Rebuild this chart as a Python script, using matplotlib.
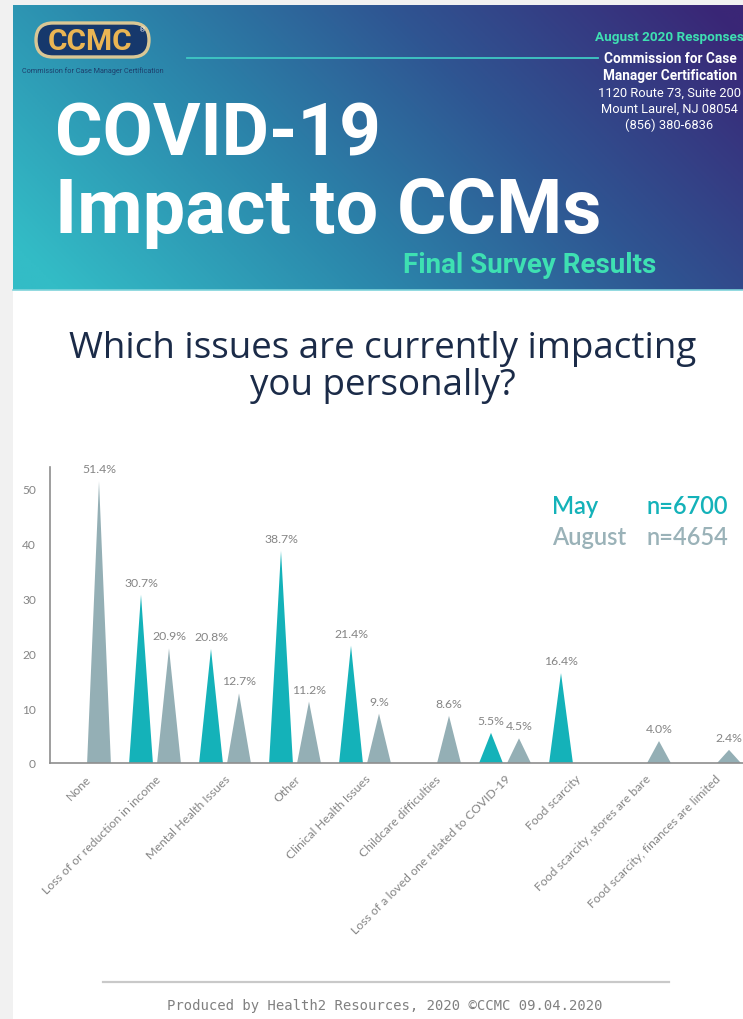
#!/usr/bin/env python3
"""
COVID-19 Impact to CCMs - issues currently impacting respondents personally
"""
import numpy as np
import matplotlib
matplotlib.use("Agg")
import matplotlib.pyplot as plt
from matplotlib.colors import to_rgb
from matplotlib.patches import FancyBboxPatch, Rectangle

# --- data ---
categories = [
    "None",
    "Loss of or reduction in income",
    "Mental Health Issues",
    "Other",
    "Clinical Health Issues",
    "Childcare difficulties",
    "Loss of a loved one related to COVID-19",
    "Food scarcity",
    "Food scarcity, stores are bare",
    "Food scarcity, finances are limited",
]
may_values = [None, 30.7, 20.8, 38.7, 21.4, None, 5.5, 16.4, None, None]
may_labels = [None, "30.7%", "20.8%", "38.7%", "21.4%", None, "5.5%", "16.4%", None, None]
aug_values = [51.4, 20.9, 12.7, 11.2, 9.0, 8.6, 4.5, None, 4.0, 2.4]
aug_labels = ["51.4%", "20.9%", "12.7%", "11.2%", "9.%", "8.6%", "4.5%", None, "4.0%", "2.4%"]
y_ticks = [0, 10, 20, 30, 40, 50]
legend_rows = [("May", "n=6700"), ("August", "n=4654")]

MAY = "#14b2b9"
AUG = "#94afb5"
GRAY_TXT = "#858585"
W, H = 743, 1020

fig = plt.figure(figsize=(W / 100, H / 100), dpi=100, facecolor="white")

# full-page overlay in pixel coordinates
bg = fig.add_axes([0, 0, 1, 1])
bg.set_xlim(0, W)
bg.set_ylim(H, 0)
bg.axis("off")

# light gray page margins
bg.add_patch(Rectangle((0, 0), 13, H, color="#f1f1f1", lw=0))
bg.add_patch(Rectangle((0, 0), W, 6, color="#f1f1f1", lw=0))

# banner gradient (teal bottom-left -> purple top-right)
gx, gy = np.meshgrid(np.linspace(0, 1, 300), np.linspace(0, 1, 120))
t = np.clip(0.78 * gx + 0.30 * (1 - gy) - 0.05, 0, 1)
stops = [(0.0, "#33bcc6"), (0.35, "#2b86ab"), (0.65, "#2f5592"), (1.0, "#3a2676")]
img = np.zeros(t.shape + (3,))
for ch in range(3):
    img[..., ch] = np.interp(t, [s[0] for s in stops], [to_rgb(s[1])[ch] for s in stops])
bg.imshow(img, extent=(13, W, 291, 6), aspect="auto", zorder=1)
bg.plot([13, W], [290.5, 290.5], color="#7fd3da", lw=1.2, zorder=2)

# logo
bg.add_patch(FancyBboxPatch((36, 24), 113, 34, boxstyle="round,pad=0,rounding_size=17",
                            fc="#16386c", ec="#d9c795", lw=2.4, zorder=3))
bg.text(90, 42, "CCMC", color="#eab553", fontsize=21.5, weight="bold",
        family="Roboto", ha="center", va="center", zorder=4)
bg.text(143, 30, "®", color="white", fontsize=5, ha="center", va="center", zorder=4)
bg.text(22, 71, "Commission for Case Manager Certification", color="#1d3e6b",
        fontsize=5.2, family="Roboto", ha="left", va="center", zorder=4)

# banner titles
bg.text(55, 155, "COVID-19", color="white", fontsize=52.5, weight="bold", family="Roboto",
        ha="left", va="baseline", zorder=4)
bg.text(55, 233, "Impact to CCMs", color="white", fontsize=54.5, weight="bold", family="Roboto",
        ha="left", va="baseline", zorder=4)
bg.text(403, 273, "Final Survey Results", color="#3ee0b2", fontsize=20, weight="bold",
        family="Roboto", ha="left", va="baseline", zorder=4)

# right header block
bg.plot([187, 598], [59, 59], color="#3fc9c4", lw=1.3, zorder=3)
bg.text(595, 37, "August 2020 Responses", color="#3ee0b2", fontsize=9.7, weight="bold",
        family="Roboto", ha="left", va="center", zorder=4)
bg.text(670, 59, "Commission for Case", color="white", fontsize=9.8, weight="bold",
        family="Roboto", ha="center", va="center", zorder=4)
bg.text(670, 76, "Manager Certification", color="white", fontsize=9.8, weight="bold",
        family="Roboto", ha="center", va="center", zorder=4)
for yy, line in [(93, "1120 Route 73, Suite 200"), (109, "Mount Laurel, NJ 08054"),
                 (125, "(856) 380-6836")]:
    bg.text(669, yy, line, color="white", fontsize=9.3, family="Roboto",
            ha="center", va="center", zorder=4)

# chart title
bg.text(383, 349, "Which issues are currently impacting", color="#1b2b48", fontsize=26.5,
        family="Open Sans", ha="center", va="center")
bg.text(383, 386, "you personally?", color="#1b2b48", fontsize=26.5,
        family="Open Sans", ha="center", va="center")

# footer
bg.plot([103, 669], [983, 983], color="#c9c9c9", lw=1.6)
bg.text(385, 1006, "Produced by Health2 Resources, 2020 ©CCMC 09.04.2020", color="#808080",
        fontsize=10, family="DejaVu Sans Mono", ha="center", va="center")

# --- chart ---
ax = fig.add_axes([50 / W, (H - 764) / H, (W - 50) / W, (764 - 468) / H])
ax.set_facecolor("none")
x = np.arange(len(categories))
half = 0.17
off = 0.2


def spike(xc, v, color):
    ax.fill([xc - half, xc, xc + half], [0, v, 0], color=color, lw=0, zorder=2)


for i in range(len(categories)):
    if may_values[i] is not None:
        spike(x[i] - off, may_values[i], MAY)
        ax.annotate(may_labels[i], (x[i] - off, may_values[i]), xytext=(0, 5),
                    textcoords="offset points", ha="center", va="bottom",
                    fontsize=8.8, color=GRAY_TXT, family="Lato")
    if aug_values[i] is not None:
        spike(x[i] + off, aug_values[i], AUG)
        ax.annotate(aug_labels[i], (x[i] + off, aug_values[i]), xytext=(0, 5),
                    textcoords="offset points", ha="center", va="bottom",
                    fontsize=8.8, color=GRAY_TXT, family="Lato")

ax.set_xlim(-0.5, -0.5 + (W - 50) / 70)
ax.set_ylim(0, 54)
for s in ["top", "right"]:
    ax.spines[s].set_visible(False)
for s in ["left", "bottom"]:
    ax.spines[s].set_color("#8e8e8e")
    ax.spines[s].set_linewidth(1.2)

ax.set_yticks(y_ticks)
ax.set_yticklabels([str(v) for v in y_ticks], fontsize=8.6, color=GRAY_TXT, family="Lato")
ax.set_xticks(x)
ax.set_xticklabels(categories, rotation=45, ha="right", rotation_mode="anchor",
                   fontsize=8.8, color=GRAY_TXT, family="Lato")
ax.tick_params(axis="both", length=0)
ax.tick_params(axis="y", pad=10)
ax.tick_params(axis="x", pad=7)

# legend text block
leg_colors = [MAY, "#9ab2b8"]
for k, (name, n) in enumerate(legend_rows):
    yy = 507 + 31 * k
    bg.text(552, yy, name, color=leg_colors[k], fontsize=17, weight="semibold",
            family="Lato", ha="left", va="center", zorder=5)
    bg.text(647, yy, n, color=leg_colors[k], fontsize=17, weight="semibold",
            family="Lato", ha="left", va="center", zorder=5)

plt.savefig("out.png", dpi=100)
